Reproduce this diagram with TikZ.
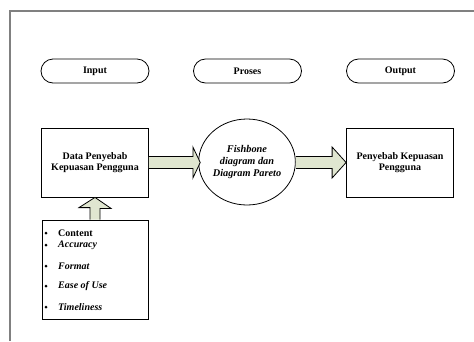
\documentclass[tikz,border=0pt]{standalone}
\usepackage{fontspec}
\setmainfont{Liberation Serif}
\usetikzlibrary{calc,shapes.geometric}
\definecolor{arrfill}{RGB}{224,230,208}
\definecolor{framegray}{RGB}{128,128,128}
\tikzset{
  pill/.style={draw, line width=0.8pt, rounded corners=12pt, minimum width=108pt, minimum height=24pt, inner sep=0pt, font=\fontsize{10}{11}\selectfont\bfseries},
  boxnode/.style={draw, line width=0.8pt, minimum width=107pt, minimum height=69pt, inner sep=0pt, align=center, font=\fontsize{10}{11.5}\selectfont\bfseries},
  circnode/.style={draw, line width=0.8pt, ellipse, minimum width=76pt, minimum height=86pt, inner sep=0pt, align=center, font=\fontsize{10.3}{12}\selectfont\bfseries\itshape},
  fatarrow/.style={draw, line width=0.8pt, fill=arrfill, line join=miter},
  itemtext/.style={anchor=west, inner sep=0pt, font=\fontsize{10}{11}\selectfont\bfseries\itshape},
  bul/.style={circle, fill, inner sep=0pt, minimum size=3pt},
}
\begin{document}
\begin{tikzpicture}[x=1pt,y=-1pt]
\useasboundingbox (0,0) rectangle (474,341);
% frame
\draw[framegray, line width=1.1pt] (10,341) -- (10,11) -- (474,11);
% pills
\node[pill] (input) at (95,71) {Input};
\node[pill] (proses) at (247.5,71) {Proses};
\node[pill] (output) at (400.5,71) {Output};
% boxes
\node[boxnode] (data) at (95,162.5) {Data Penyebab\\Kepuasan Pengguna};
\node[boxnode] (hasil) at (400,162.5) {Penyebab Kepuasan\\Pengguna};
\node[circnode] (fish) at (247,162) {Fishbone\\diagram dan\\Diagram Pareto};
\node[draw, line width=0.8pt, minimum width=106pt, minimum height=99pt, inner sep=0pt] (dim) at (95,269.5) {};
% list
\node[bul] (d1) at (46,233) {};
\node[bul] (d2) at (46,245) {};
\node[bul] (d3) at (46,266) {};
\node[bul] (d4) at (46,286) {};
\node[bul] (d5) at (46,307) {};
\node[itemtext, font=\fontsize{10}{11}\selectfont\bfseries] (t1) at (58,233) {Content};
\node[itemtext] (t2) at (58,245.5) {Accuracy};
\node[itemtext] (t3) at (58,266) {Format};
\node[itemtext] (t4) at (58,286) {Ease of Use};
\node[itemtext] (t5) at (58,307) {Timeliness};
% arrow data -> fish
\draw[fatarrow] ($(data.east)+(0,-6)$) -- ++(44,0) -- ++(0,-9.5) -- ($(fish.west)+(2,0.5)$) -- ($(data.east)+(44,15.5)$) -- ++(0,-9.5) -- ($(data.east)+(0,6)$);
% arrow fish -> hasil
\draw[fatarrow] ($(fish.east)+(0,-5.5)$) -- ($(hasil.west)+(-14,-6)$) -- ++(0,-9.5) -- (hasil.west) -- ($(hasil.west)+(-14,15.5)$) -- ++(0,-9.5) -- ($(fish.east)+(0,6.5)$);
% arrow dim -> data
\draw[fatarrow] ($(dim.north)+(-5,0)$) -- ++(0,-12) -- ++(-11,0) -- (data.south) -- ($(data.south)+(16,11)$) -- ++(-11,0) -- ($(dim.north)+(5,0)$);
\end{tikzpicture}
\end{document}
